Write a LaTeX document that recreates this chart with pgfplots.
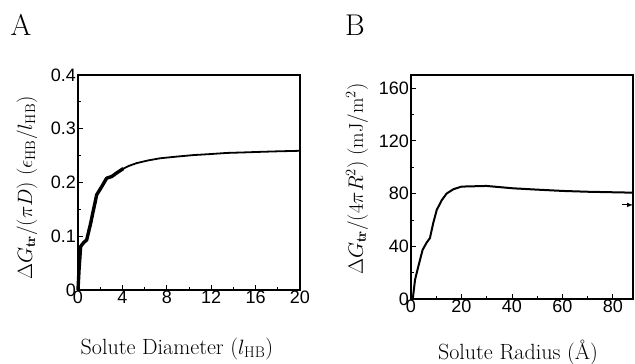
\documentclass[border=0pt]{standalone}
\usepackage{fontspec}
\usepackage{pgfplots}
\pgfplotsset{compat=1.18}
\newfontfamily\arial{Liberation Sans}
\begin{document}
\begin{tikzpicture}
\path[use as bounding box] (0pt,0pt) rectangle (635pt,364pt);
\pgfplotsset{
  common/.style={
    scale only axis,
    anchor=south west,
    axis line style={line width=1.2pt},
    tick style={black, line width=0.8pt},
    major tick length=5pt,
    minor tick length=3pt,
    tick align=inside,
    xtick pos=bottom, ytick pos=left,
    minor tick num=1,
    tick label style={font=\arial\fontsize{18}{21}\selectfont},
    /pgf/number format/assume math mode=true,
    xticklabel style={inner sep=1pt},
    yticklabel style={inner sep=2pt},
    ylabel style={font=\fontsize{20}{24}\selectfont},
    xlabel style={font=\fontsize{22}{26}\selectfont},
    clip=false,
  }
}
\begin{axis}[common,
  at={(78pt,74pt)}, width=222pt, height=215pt,
  xmin=0, xmax=20, ymin=0, ymax=0.4,
  xtick={0,4,8,12,16,20},
  ytick={0,0.1,0.2,0.3,0.4},
  yticklabels={0,0.1,0.2,0.3,0.4},
  xlabel={Solute Diameter ($l_{\mathrm{HB}}$)},
  ylabel={$\Delta G_{\mathbf{tr}}/(\pi D)$ $(\epsilon_{\mathrm{HB}}/l_{\mathrm{HB}})$},
  xlabel style={at={(axis description cs:0.446,-0.274)}, anchor=center},
  ylabel style={at={(axis description cs:-0.23,0.474)}, anchor=center, rotate=0},
]
\addplot[black, line width=3.4pt, line join=round] coordinates {
(0,0) (0.1,0.04) (0.24,0.081) (0.5,0.088) (0.78,0.093) (1.14,0.124)
(1.35,0.145) (1.53,0.162) (1.68,0.177) (2.13,0.192) (2.58,0.208)
(3.03,0.211) (3.5,0.218) (4.08,0.226)
};
\addplot[black, line width=1.8pt, line join=round] coordinates {
(4.0,0.225) (4.6,0.231) (5.28,0.236) (6.3,0.241) (7.38,0.245) (8.8,0.248)
(10.4,0.251) (12,0.253) (13.4,0.255) (15,0.256) (16.4,0.257) (18,0.258) (20,0.259)
};
\end{axis}
\begin{axis}[common,
  at={(411pt,65pt)}, width=222pt, height=224pt,
  xmin=0, xmax=88, ymin=0, ymax=170,
  xtick={0,20,40,60,80},
  ytick={0,40,80,120,160},
  xlabel={Solute Radius (\AA)},
  ylabel={$\Delta G_{\mathbf{tr}}/(4\pi R^2)$ $(\mathrm{mJ}/\mathrm{m}^2)$},
  xlabel style={at={(axis description cs:0.482,-0.237)}, anchor=center},
  ylabel style={at={(axis description cs:-0.243,0.536)}, anchor=center, rotate=0},
]
\addplot[black, line width=2pt, line join=round] coordinates {
(0.7,0) (1.6,14.6) (2.9,24.7) (4.6,37.3) (6.2,42.8) (7.5,46.2) (8.8,57.5)
(10.2,67.6) (12.2,75) (14.1,80) (16.8,83.3) (20,85.3) (29.9,85.8)
(40.5,84) (50,83) (60.3,82) (70,81.4) (80.1,81) (88,80.7)
};
\draw[-latex, line width=1pt] (axis cs:83.5,71.4) -- (axis cs:88,71.4);
\end{axis}
\node[font=\fontsize{30}{34}\selectfont] at (21pt,339pt) {A};
\node[font=\fontsize{30}{34}\selectfont] at (355pt,339pt) {B};
\end{tikzpicture}
\end{document}
